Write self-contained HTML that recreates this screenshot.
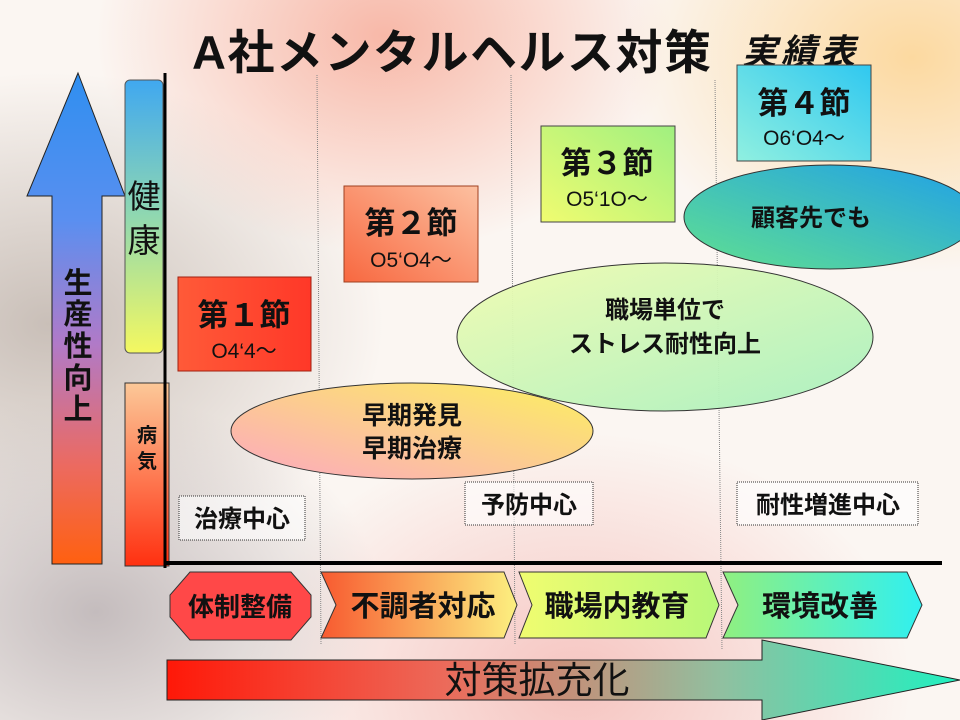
<!DOCTYPE html>
<html><head><meta charset="utf-8"><style>
html,body{margin:0;padding:0;width:960px;height:720px;overflow:hidden;background:#fff}
svg text{font-family:"Liberation Sans","Noto Sans CJK JP",sans-serif;}
</style></head><body>
<svg width="960" height="720" viewBox="0 0 960 720" xmlns="http://www.w3.org/2000/svg">
<defs>
<radialGradient id="bg1" cx="0.05" cy="0.45" r="0.35"><stop offset="0" stop-color="#c9bfb8"/><stop offset="1" stop-color="#c9bfb8" stop-opacity="0"/></radialGradient>
<radialGradient id="bg2" cx="0.4" cy="0.05" r="0.3"><stop offset="0" stop-color="#f8b8a8"/><stop offset="1" stop-color="#f8b8a8" stop-opacity="0"/></radialGradient>
<radialGradient id="bg3" cx="0.95" cy="0.08" r="0.3"><stop offset="0" stop-color="#fcd9a0"/><stop offset="1" stop-color="#fcd9a0" stop-opacity="0"/></radialGradient>
<radialGradient id="bg4" cx="0.6" cy="0.95" r="0.35"><stop offset="0" stop-color="#f6c4c0"/><stop offset="1" stop-color="#f6c4c0" stop-opacity="0"/></radialGradient>
<radialGradient id="bg5" cx="0.1" cy="0.85" r="0.3"><stop offset="0" stop-color="#c4bcbd"/><stop offset="1" stop-color="#c4bcbd" stop-opacity="0"/></radialGradient>
<linearGradient id="upA" x1="0" y1="0" x2="0" y2="1"><stop offset="0" stop-color="#2f8ff0"/><stop offset="0.3" stop-color="#5a8ff0"/><stop offset="0.55" stop-color="#b07ac8"/><stop offset="0.8" stop-color="#ec6a60"/><stop offset="1" stop-color="#ff6010"/></linearGradient>
<linearGradient id="ken" x1="0" y1="0" x2="0" y2="1"><stop offset="0" stop-color="#40a8f0"/><stop offset="0.5" stop-color="#90d8b0"/><stop offset="1" stop-color="#f4f860"/></linearGradient>
<linearGradient id="byo" x1="0" y1="0" x2="0" y2="1"><stop offset="0" stop-color="#fcc898"/><stop offset="1" stop-color="#ff3010"/></linearGradient>
<linearGradient id="s1" x1="0" y1="0" x2="1" y2="0"><stop offset="0" stop-color="#ff5a38"/><stop offset="1" stop-color="#ff3828"/></linearGradient>
<linearGradient id="s2" x1="0" y1="1" x2="1" y2="0"><stop offset="0" stop-color="#f86840"/><stop offset="1" stop-color="#fcc0a0"/></linearGradient>
<linearGradient id="s3" x1="0" y1="1" x2="1" y2="0"><stop offset="0" stop-color="#f0fc70"/><stop offset="1" stop-color="#a0f080"/></linearGradient>
<linearGradient id="s4" x1="0" y1="1" x2="1" y2="0"><stop offset="0" stop-color="#90f0e0"/><stop offset="1" stop-color="#30c8f0"/></linearGradient>
<linearGradient id="e1" x1="0" y1="1" x2="1" y2="0"><stop offset="0" stop-color="#fca8c0"/><stop offset="1" stop-color="#fcf060"/></linearGradient>
<linearGradient id="e2" x1="0" y1="0" x2="1" y2="1"><stop offset="0" stop-color="#f0fcb0"/><stop offset="1" stop-color="#a8f0c0"/></linearGradient>
<linearGradient id="e3" x1="0" y1="1" x2="1" y2="0"><stop offset="0" stop-color="#60e090"/><stop offset="1" stop-color="#20a0e8"/></linearGradient>
<linearGradient id="c2" x1="0" y1="0" x2="1" y2="0"><stop offset="0" stop-color="#f85a30"/><stop offset="1" stop-color="#fcf080"/></linearGradient>
<linearGradient id="c3" x1="0" y1="0" x2="1" y2="0"><stop offset="0" stop-color="#f0fc70"/><stop offset="1" stop-color="#b8f878"/></linearGradient>
<linearGradient id="c4" x1="0" y1="0" x2="1" y2="0"><stop offset="0" stop-color="#90f080"/><stop offset="1" stop-color="#30f0f0"/></linearGradient>
<linearGradient id="big" x1="0" y1="0" x2="1" y2="0"><stop offset="0" stop-color="#ff1808"/><stop offset="0.35" stop-color="#ec6a5a"/><stop offset="0.7" stop-color="#90c0a0"/><stop offset="1" stop-color="#20f0c0"/></linearGradient>
</defs>
<rect width="960" height="720" fill="#fbf6f2"/>
<rect width="960" height="720" fill="url(#bg1)"/>
<rect width="960" height="720" fill="url(#bg2)"/>
<rect width="960" height="720" fill="url(#bg3)"/>
<rect width="960" height="720" fill="url(#bg4)"/>
<rect width="960" height="720" fill="url(#bg5)"/>

<text x="192" y="69" font-size="47" font-weight="bold" fill="#111" letter-spacing="1.5">A社メンタルヘルス対策</text>
<text x="742" y="64" font-size="35" font-weight="bold" font-style="italic" fill="#111" letter-spacing="4">実績表</text>

<g stroke="#888" stroke-width="1" stroke-dasharray="1,1">
<line x1="317" y1="75" x2="321" y2="645"/>
<line x1="511" y1="75" x2="515" y2="645"/>
<line x1="715" y1="80" x2="722" y2="650"/>
</g>

<polygon points="78,73 125,196 102,196 102,564 52,564 52,196 27,196" fill="url(#upA)" stroke="#222" stroke-width="1"/>
<text font-size="29" font-weight="bold" fill="#111" text-anchor="middle">
<tspan x="78" y="293">生</tspan><tspan x="78" y="324">産</tspan><tspan x="78" y="356">性</tspan><tspan x="78" y="388">向</tspan><tspan x="78" y="419">上</tspan></text>

<rect x="125" y="80" width="38" height="273" rx="5" fill="url(#ken)" stroke="#555" stroke-width="1"/>
<text font-size="33" fill="#111" text-anchor="middle"><tspan x="144" y="208">健</tspan><tspan x="144" y="252">康</tspan></text>
<rect x="125" y="383" width="44" height="183" fill="url(#byo)" stroke="#333" stroke-width="1"/>
<text font-size="20" font-weight="bold" fill="#111" text-anchor="middle"><tspan x="147" y="442">病</tspan><tspan x="147" y="468">気</tspan></text>

<line x1="165" y1="73" x2="165" y2="568" stroke="#000" stroke-width="3"/>
<line x1="165" y1="563" x2="942" y2="563" stroke="#000" stroke-width="4"/>

<rect x="178" y="277" width="133" height="94" fill="url(#s1)" stroke="#a02010" stroke-width="1"/>
<text x="244" y="326" font-size="31" font-weight="bold" text-anchor="middle" fill="#111">第１節</text>
<text x="244" y="358" font-size="21" font-family="Liberation Serif" text-anchor="middle" fill="#111">O4‘4～</text>
<rect x="344" y="186" width="134" height="96" fill="url(#s2)" stroke="#a04020" stroke-width="1"/>
<text x="411" y="234" font-size="31" font-weight="bold" text-anchor="middle" fill="#111">第２節</text>
<text x="411" y="267" font-size="21" font-family="Liberation Serif" text-anchor="middle" fill="#111">O5‘O4～</text>
<rect x="541" y="126" width="134" height="96" fill="url(#s3)" stroke="#444" stroke-width="1"/>
<text x="607" y="174" font-size="31" font-weight="bold" text-anchor="middle" fill="#111">第３節</text>
<text x="607" y="206" font-size="21" font-family="Liberation Serif" text-anchor="middle" fill="#111">O5‘1O～</text>
<rect x="737" y="65" width="134" height="96" fill="url(#s4)" stroke="#444" stroke-width="1"/>
<text x="804" y="114" font-size="31" font-weight="bold" text-anchor="middle" fill="#111">第４節</text>
<text x="804" y="145" font-size="21" font-family="Liberation Serif" text-anchor="middle" fill="#111">O6‘O4～</text>

<ellipse cx="830" cy="217" rx="146" ry="52" fill="url(#e3)" stroke="#333" stroke-width="1"/>
<text x="811" y="226" font-size="24" font-weight="bold" text-anchor="middle" fill="#111">顧客先でも</text>
<ellipse cx="665" cy="337" rx="208" ry="74" fill="url(#e2)" stroke="#333" stroke-width="1" fill-opacity="0.95"/>
<text x="665" y="318" font-size="24" font-weight="bold" text-anchor="middle" fill="#111">職場単位で</text>
<text x="665" y="352" font-size="24" font-weight="bold" text-anchor="middle" fill="#111">ストレス耐性向上</text>
<ellipse cx="412" cy="431" rx="181" ry="48" fill="url(#e1)" stroke="#333" stroke-width="1"/>
<text x="412" y="424" font-size="25" font-weight="bold" text-anchor="middle" fill="#111">早期発見</text>
<text x="412" y="457" font-size="25" font-weight="bold" text-anchor="middle" fill="#111">早期治療</text>

<g fill="#fff" fill-opacity="0.6" stroke="#333" stroke-width="1" stroke-dasharray="1,1">
<rect x="179" y="496" width="126" height="44"/>
<rect x="465" y="482" width="128" height="43"/>
<rect x="737" y="482" width="181" height="43"/>
</g>
<text x="242" y="527" font-size="24" font-weight="bold" text-anchor="middle" fill="#111">治療中心</text>
<text x="529" y="513" font-size="24" font-weight="bold" text-anchor="middle" fill="#111">予防中心</text>
<text x="828" y="513" font-size="24" font-weight="bold" text-anchor="middle" fill="#111">耐性増進中心</text>

<polygon points="190,572 291,572 311,595 311,617 291,640 190,640 170,617 170,595" fill="#ff4848" stroke="#333" stroke-width="1"/>
<text x="240" y="616" font-size="26" font-weight="bold" text-anchor="middle" fill="#111">体制整備</text>
<polygon points="321,572 504,572 517,605 504,638 321,638 336,605" fill="url(#c2)" stroke="#333" stroke-width="1"/>
<text x="423" y="616" font-size="29" font-weight="bold" text-anchor="middle" fill="#111">不調者対応</text>
<polygon points="519,572 706,572 719,605 706,638 519,638 532,605" fill="url(#c3)" stroke="#333" stroke-width="1"/>
<text x="617" y="616" font-size="29" font-weight="bold" text-anchor="middle" fill="#111">職場内教育</text>
<polygon points="723,572 907,572 922,605 907,638 723,638 738,605" fill="url(#c4)" stroke="#333" stroke-width="1"/>
<text x="820" y="616" font-size="29" font-weight="bold" text-anchor="middle" fill="#111">環境改善</text>

<polygon points="167,660 762,660 762,640 960,680 762,720 762,700 167,700" fill="url(#big)" stroke="#222" stroke-width="1"/>
<text x="537" y="693" font-size="37" text-anchor="middle" fill="#111">対策拡充化</text>
</svg>
</body></html>
